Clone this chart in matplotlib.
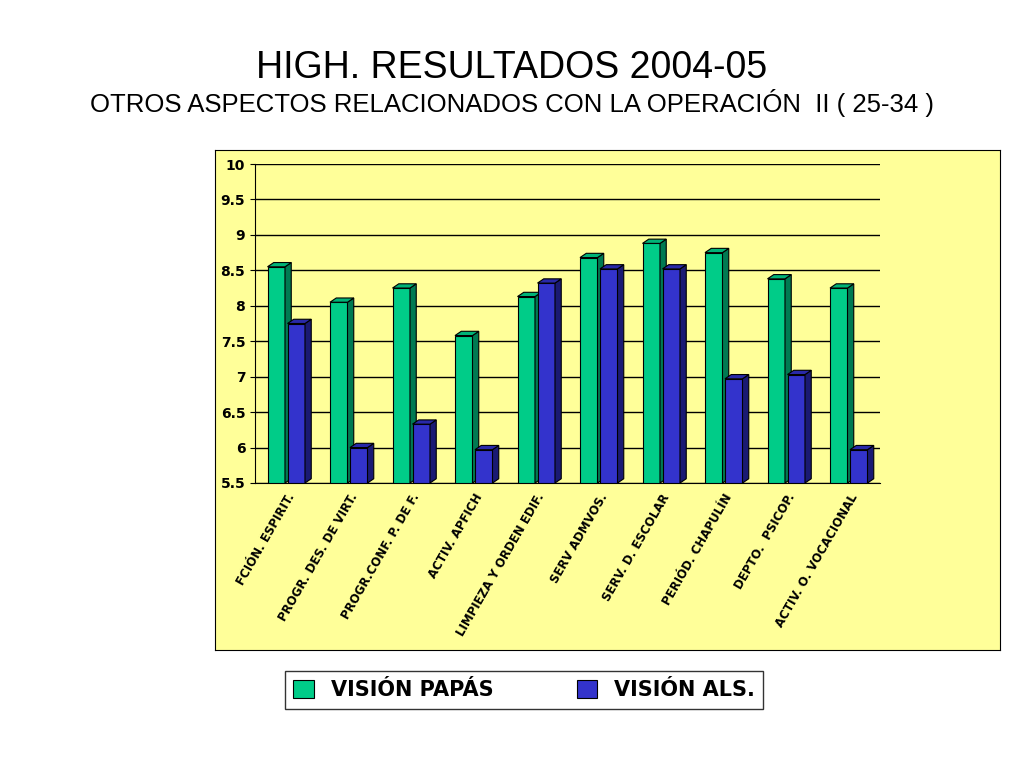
import matplotlib
matplotlib.use("Agg")
import matplotlib.pyplot as plt
from matplotlib.patches import Polygon
import numpy as np

categories = ["FCIÓN. ESPIRIT.", "PROGR. DES. DE VIRT.", "PROGR.CONF. P. DE F.", "ACTIV. APFICH",
              "LIMPIEZA Y ORDEN EDIF.", "SERV ADMVOS.", "SERV. D. ESCOLAR", "PERIÓD. CHAPULÍN",
              "DEPTO.  PSICOP.", "ACTIV. O. VOCACIONAL"]
papas = [8.55, 8.05, 8.25, 7.58, 8.13, 8.68, 8.88, 8.75, 8.38, 8.25]
alumnos = [7.75, 6.0, 6.33, 5.97, 8.32, 8.52, 8.52, 6.97, 7.03, 5.97]
yticks = [5.5, 6, 6.5, 7, 7.5, 8, 8.5, 9, 9.5, 10]
ytick_labels = ["5.5", "6", "6.5", "7", "7.5", "8", "8.5", "9", "9.5", "10"]

fig = plt.figure(figsize=(10.24, 7.68), dpi=100)
fig.patch.set_facecolor("white")
fig.text(0.5, 1-68/768, "HIGH. RESULTADOS 2004-05", ha="center", va="center", fontsize=27, family="Liberation Sans")
fig.text(0.5, 1-103/768, "OTROS ASPECTOS RELACIONADOS CON LA OPERACIÓN  II ( 25-34 )", ha="center",
         va="center", fontsize=18.5, family="Liberation Sans")

bg = fig.add_axes([215/1024, 1-650/768, 785/1024, 500/768], zorder=0)
bg.set_facecolor("#FFFF99")
bg.set_xticks([]); bg.set_yticks([])

ax = fig.add_axes([255/1024, 1-483/768, 625/1024, 319/768], zorder=1)
ax.set_facecolor("#FFFF99")
ax.set_xlim(-0.5, len(categories) - 0.5)
ax.set_ylim(5.5, 10)
ax.set_yticks(yticks)
ax.set_yticklabels(ytick_labels, fontsize=10, fontweight="bold", family="DejaVu Sans")
ax.yaxis.grid(True, color="black", lw=1)
ax.set_axisbelow(True)
for s in ["top", "right"]:
    ax.spines[s].set_visible(False)
x = np.arange(len(categories))
w = 0.28
dx, dy = 0.1, 0.06
def bars3d(xs, vals, face, side, top):
    rects = ax.bar(xs, np.array(vals) - 5.5, w, bottom=5.5, color=face, edgecolor="black", lw=0.8, zorder=3)
    for r, v in zip(rects, vals):
        x0 = r.get_x(); x1 = x0 + r.get_width()
        ax.add_patch(Polygon([(x1, 5.5), (x1 + dx, 5.5 + dy), (x1 + dx, v + dy), (x1, v)],
                             facecolor=side, edgecolor="black", lw=0.8, zorder=3))
        ax.add_patch(Polygon([(x0, v), (x0 + dx, v + dy), (x1 + dx, v + dy), (x1, v)],
                             facecolor=top, edgecolor="black", lw=0.8, zorder=3))
    return rects
b1 = bars3d(x - w/2 - 0.02, papas, "#00CC88", "#007A52", "#00B377")
b2 = bars3d(x + w/2 + 0.02, alumnos, "#3333CC", "#1A1A73", "#2929A8")
ax.set_xticks(x)
ax.set_xticklabels(categories, rotation=60, ha="right", rotation_mode="anchor",
                   fontsize=8.5, fontweight="bold", family="DejaVu Sans")
ax.tick_params(axis="x", length=0, pad=6)

leg = fig.legend([b1, b2], ["VISIÓN PAPÁS", "VISIÓN ALS."], loc="center",
                 bbox_to_anchor=(524/1024, 1-690/768), ncol=2, fancybox=False,
                 edgecolor="black", prop={"size": 15, "weight": "bold", "family": "DejaVu Sans"},
                 columnspacing=4, handlelength=1, handleheight=1, borderpad=0.4)
fig.savefig("out.png", dpi=100)
